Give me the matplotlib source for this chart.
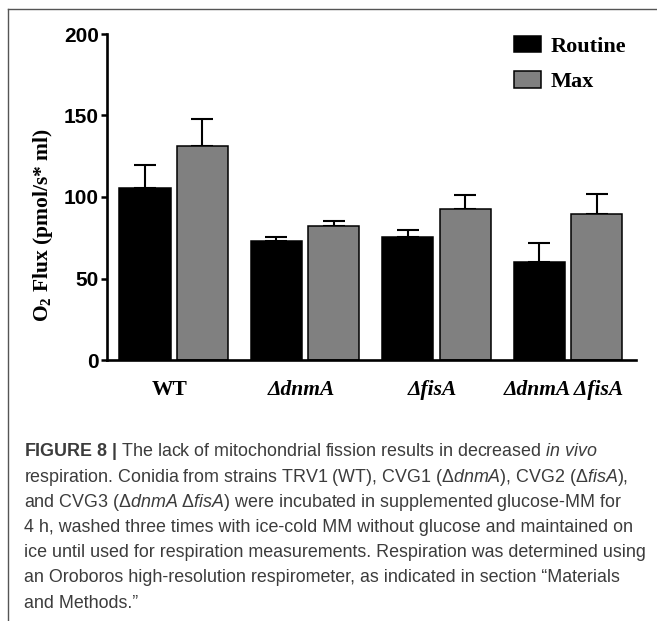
import matplotlib
matplotlib.use("Agg")
import matplotlib.pyplot as plt
import numpy as np

# ---- data ----
groups = ["WT", "ΔdnmA", "ΔfisA", "ΔdnmA ΔfisA"]
series = ["Routine", "Max"]
routine = [105.5, 73.0, 75.5, 60.0]
routine_err = [14.0, 2.2, 4.2, 11.5]
maxv = [131.5, 82.5, 92.5, 89.8]
max_err = [16.5, 2.8, 9.0, 11.8]
yticks = [0, 50, 100, 150, 200]

plt.rcParams['mathtext.fontset'] = 'custom'
plt.rcParams['mathtext.rm'] = 'Liberation Serif:bold'
plt.rcParams['mathtext.it'] = 'Liberation Sans:italic'
plt.rcParams['mathtext.bf'] = 'Liberation Sans:bold'

W, H = 657, 621
fig = plt.figure(figsize=(W / 100, H / 100), dpi=100)

def fx(px):
    return px / W

def fy(py):
    return 1 - py / H

# axes: y-axis at x=107, right end 636, y=0 at 360, y=200 at 34
ax = fig.add_axes([fx(107), fy(360), fx(636) - fx(107), fy(34) - fy(360)])

x = np.arange(len(groups))
bw = 0.388
off = 0.217
lw_edge = 1.1
b1 = ax.bar(x - off, routine, bw, color='black', edgecolor='black', linewidth=lw_edge,
            label=series[0], zorder=2)
b2 = ax.bar(x + off, maxv, bw, color='#808080', edgecolor='black', linewidth=lw_edge,
            label=series[1], zorder=2)
ekw = dict(fmt='none', ecolor='black', elinewidth=1.5, capsize=8, capthick=1.5, zorder=1)
ax.errorbar(x - off, routine, yerr=[np.zeros(4), routine_err], **ekw)
ax.errorbar(x + off, maxv, yerr=[np.zeros(4), max_err], **ekw)

ax.set_xlim(-0.506, 3.517)
ax.set_ylim(0, 200)
ax.set_yticks(yticks)
ax.set_yticklabels([str(v) for v in yticks], fontfamily='Liberation Sans',
                   fontweight='bold', fontsize=15)
ax.set_xticks(x)
ax.set_xticklabels([])
ax.tick_params(axis='y', length=4.5, width=1.8, pad=1.5)
ax.tick_params(axis='x', length=0, pad=0)
for s in ['top', 'right']:
    ax.spines[s].set_visible(False)
for s in ['left', 'bottom']:
    ax.spines[s].set_linewidth(1.9)
ax.spines['bottom'].set_zorder(3)

# x group labels
for i, g in enumerate(groups):
    style = 'normal' if g == 'WT' else 'italic'
    ax.text(i - 0.03, -18.5, g, transform=ax.transData, ha='center', va='center',
            fontfamily='Liberation Serif', fontweight='bold', fontstyle=style,
            fontsize=15.5, clip_on=False)

# y label
fig.text(fx(43), fy(225), r"O$_{\mathrm{2}}$ Flux (pmol/s* ml)", rotation=90,
         ha='center', va='center', fontfamily='Liberation Serif', fontweight='bold',
         fontsize=15.5)

# legend
leg = ax.legend(handles=[b1, b2], labels=series, loc='upper left',
                bbox_to_anchor=(fx(514), fy(36)), bbox_transform=fig.transFigure,
                frameon=False, borderpad=0, borderaxespad=0,
                handlelength=1.2, handleheight=0.75, handletextpad=0.45,
                labelspacing=0.65,
                prop=dict(family='Liberation Serif', weight='bold', size=16))

# figure frame (top and left rules)
fig.add_artist(plt.Line2D([fx(8), 1.0], [fy(9), fy(9)], transform=fig.transFigure,
                          color='#555555', linewidth=1.0))
fig.add_artist(plt.Line2D([fx(8), fx(8)], [fy(9), 0.0], transform=fig.transFigure,
                          color='#555555', linewidth=1.0))

# caption
cap_lines = [
    r"$\mathbf{FIGURE\ 8\ |}$ The lack of mitochondrial fission results in decreased $\mathit{in\ vivo}$",
    r"respiration. Conidia from strains TRV1 (WT), CVG1 (Δ$\mathit{dnmA}$), CVG2 (Δ$\mathit{fisA}$),",
    r"and CVG3 (Δ$\mathit{dnmA}$ Δ$\mathit{fisA}$) were incubated in supplemented glucose-MM for",
    "4 h, washed three times with ice-cold MM without glucose and maintained on",
    "ice until used for respiration measurements. Respiration was determined using",
    "an Oroboros high-resolution respirometer, as indicated in section \u201cMaterials",
    "and Methods.\u201d",
]
cap_y0 = 452
cap_dy = 25.2
for k, line in enumerate(cap_lines):
    fig.text(fx(24), fy(cap_y0 + k * cap_dy), line, ha='left', va='center',
             fontfamily='Liberation Sans', fontsize=12.9, color='#3c3c3c')

fig.savefig("out.png", dpi=100)
